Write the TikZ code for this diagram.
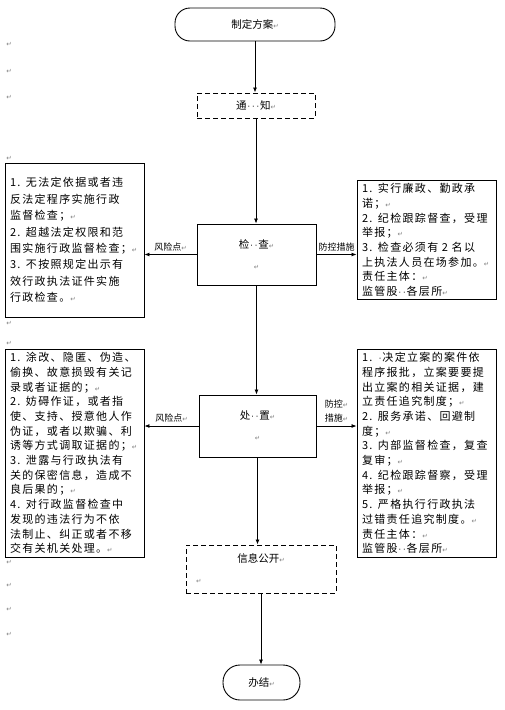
\documentclass[tikz,border=0pt]{standalone}
\usepackage{fontspec}
\setmainfont{Noto Sans CJK SC}
\newfontfamily\boxfont[LetterSpace=12]{Noto Sans CJK SC}
\newfontfamily\markfont{DejaVu Sans}
\usetikzlibrary{arrows.meta}
\newcommand{\pmark}{{\markfont\fontsize{6.5}{6.5}\selectfont\color{gray}↵}}
\newcommand{\sdot}{\makebox[4.5pt]{\markfont\fontsize{8}{8}\selectfont ·}}
\tikzset{
	arr/.style={-{Latex[length=5pt,width=4pt]}, line width=0.8pt},
	startbox/.style={draw, line width=0.9pt, rounded corners=15pt, minimum width=160pt, minimum height=33pt, font=\fontsize{10.5}{21}\selectfont},
	dashbox/.style={draw, line width=1pt, dash pattern=on 5pt off 3pt, font=\fontsize{10.5}{21}\selectfont},
	stepbox/.style={draw, line width=0.9pt, align=center, font=\fontsize{10.5}{21}\selectfont},
	notebox/.style={draw, line width=0.9pt, text width=129pt, inner xsep=5pt, align=left, font=\boxfont\fontsize{11}{14.7}\selectfont},
	lab/.style={inner sep=1pt, align=left, font=\fontsize{9}{14}\selectfont},
	margin/.style={inner sep=0pt}
}
\begin{document}
\begin{tikzpicture}[x=1pt, y=-1pt]
	\path[fill=white] (0,0) rectangle (504,710);
	\useasboundingbox (0,0) rectangle (504,710);

	% main steps
	\node[startbox] (plan) at (255,24.5) {制定方案\pmark};
	\node[dashbox, minimum width=118pt, minimum height=25pt] (notice) at (256,105.5) {通\sdot\sdot\sdot 知\pmark};
	\node[stepbox, minimum width=119pt, minimum height=61pt] (check) at (256.5,254.5) {检\sdot\sdot 查\pmark\\ \pmark};
	\node[stepbox, minimum width=117pt, minimum height=62pt] (handle) at (257.5,426) {处\sdot\sdot 置\pmark\\ \pmark};
	\node[dashbox, minimum width=150pt, minimum height=48pt, text width=130pt, align=center] (info) at (261,569) {信息公开\pmark\\ \pmark\hfill\mbox{}};
	\node[startbox, minimum width=77pt, minimum height=35pt, rounded corners=17pt] (finish) at (261.5,682.5) {办结\pmark};

	% risk points and control measures
	\node[notebox, minimum height=154pt, font=\boxfont\fontsize{11}{16.4}\selectfont] (risk1) at (74.5,240) {1. 无法定依据或者违\\
		反法定程序实施行政\\
		监督检查；\pmark\\
		2. 超越法定权限和范\\
		围实施行政监督检查；\pmark\\
		3. 不按照规定出示有\\
		效行政执法证件实施\\
		行政检查。\pmark};
	\node[notebox, minimum height=114pt] (ctrl1) at (426.5,240) {1. 实行廉政、勤政承\\
		诺；\pmark\\
		2. 纪检跟踪督查，受理\\
		举报；\pmark\\
		3. 检查必须有 2 名以\\
		上执法人员在场参加。\pmark\\
		责任主体：\pmark\\
		监管股\sdot\sdot 各层所\pmark};
	\node[notebox, minimum height=206pt] (risk2) at (74.5,453) {1. 涂改、隐匿、伪造、\\
		偷换、故意损毁有关记\\
		录或者证据的；\pmark\\
		2. 妨碍作证，或者指\\
		使、支持、授意他人作\\
		伪证，或者以欺骗、利\\
		诱等方式调取证据的；\pmark\\
		3. 泄露与行政执法有\\
		关的保密信息，造成不\\
		良后果的；\pmark\\
		4. 对行政监督检查中\\
		发现的违法行为不依\\
		法制止、纠正或者不移\\
		交有关机关处理。\pmark};
	\node[notebox, minimum height=206pt] (ctrl2) at (426.5,453) {1. \sdot 决定立案的案件依\\
		程序报批，立案要要提\\
		出立案的相关证据，建\\
		立责任追究制度；\pmark\\
		2. 服务承诺、回避制\\
		度；\pmark\\
		3. 内部监督检查，复查\\
		复审；\pmark\\
		4. 纪检跟踪督察，受理\\
		举报；\pmark\\
		5. 严格执行行政执法\\
		过错责任追究制度。\pmark\\
		责任主体：\pmark\\
		监管股\sdot\sdot 各层所\pmark};

	% paragraph marks in the margin
	\foreach \y [count=\i] in {44,71,97,158,323,343,562,585,609,634}
		\node[margin] (m\i) at (9,\y) {\pmark};

	% Draw the flow between the steps
	\draw[arr] (plan.south) -- (plan.south |- notice.north);
	\draw[arr] (notice.south) -- (notice.south |- check.north);
	\draw[arr] (check.south) -- (check.south |- handle.north);
	\draw[arr] (handle.south) -- (handle.south |- info.north);
	\draw[arr] (info.south) -- (info.south |- finish.north);

	% side arrows with labels
	\draw[arr] (check.west) -- node[above=2pt, lab] {风险点\pmark} (check.west -| risk1.east);
	\draw[arr] (check.east) -- node[above=2pt, lab] {防控措施} (check.east -| ctrl1.west);
	\draw[arr] (handle.west) -- node[above=2pt, lab] {风险点\pmark} (handle.west -| risk2.east);
	\draw[arr] (handle.east) -- node[above=2pt, lab] {防控\pmark\\措施\pmark} (handle.east -| ctrl2.west);
\end{tikzpicture}
\end{document}
